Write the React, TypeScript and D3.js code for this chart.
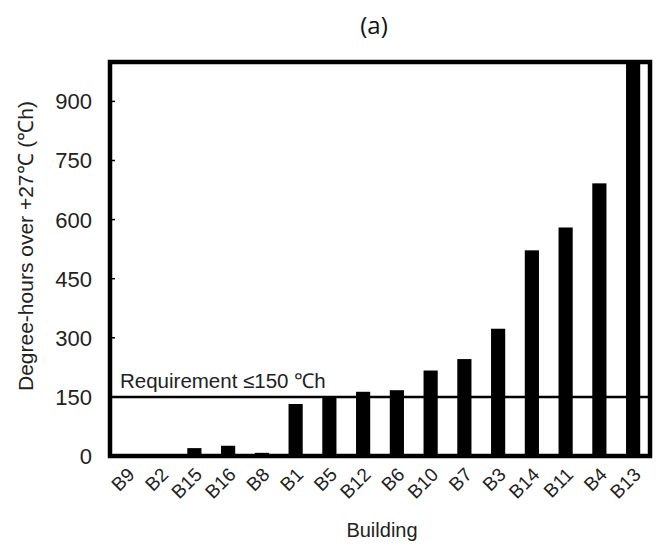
import * as d3 from "d3";

const buildings = ["B9", "B2", "B15", "B16", "B8", "B1", "B5", "B12", "B6", "B10", "B7", "B3", "B14", "B11", "B4", "B13"];
const degreeHours = [0, 0, 20, 26, 8, 132, 152, 163, 167, 217, 246, 323, 522, 580, 692, 1000];
const yTicks = [0, 150, 300, 450, 600, 750, 900];
const requirement = 150;

const width = 656;
const height = 547;
const margin = { top: 62, right: 6, bottom: 91, left: 110 };
const font = "'Liberation Sans', Arial, sans-serif";

const App = () => {
  const x = d3
    .scaleBand()
    .domain(buildings)
    .range([margin.left, width - margin.right])
    .paddingInner(0.58)
    .paddingOuter(0.29);

  const y = d3
    .scaleLinear()
    .domain([0, 1000])
    .range([height - margin.bottom, margin.top]);

  const x0 = margin.left;
  const x1 = width - margin.right;
  const yBase = y(0);

  return (
    <svg width={width} height={height} style={{ position: "absolute", left: 0, top: 0 }}>
      <text x={374} y={34} textAnchor="middle" fontFamily="'Open Sans', sans-serif" fontSize={24} fill="#111">
        (a)
      </text>

      {/* bars */}
      {buildings.map((b, i) => (
        <rect
          key={b}
          x={x(b)}
          y={y(degreeHours[i])}
          width={x.bandwidth()}
          height={yBase - y(degreeHours[i])}
          fill="#000"
        />
      ))}

      {/* requirement line */}
      <line x1={x0} x2={x1} y1={y(requirement)} y2={y(requirement)} stroke="#000" strokeWidth={2.5} />
      <text x={120} y={388} fontFamily={font} fontSize={20.5} fill="#222">
        Requirement ≤150 ℃h
      </text>

      {/* frame */}
      <rect x={x0} y={margin.top} width={x1 - x0} height={yBase - margin.top} fill="none" stroke="#000" strokeWidth={4.5} />

      {/* y axis */}
      {yTicks.map((t) => (
        <g key={t}>
          {t > 0 && <line x1={x0} x2={x0 + 5} y1={y(t)} y2={y(t)} stroke="#000" strokeWidth={1.5} />}
          <text x={92} y={y(t)} dy="0.36em" textAnchor="end" fontFamily={font} fontSize={22} fill="#222">
            {t}
          </text>
        </g>
      ))}

      {/* x tick labels */}
      {buildings.map((b) => {
        const cx = x(b) + x.bandwidth() / 2;
        return (
          <text
            key={b}
            transform={`translate(${cx + 4},${yBase + 15}) rotate(-45)`}
            textAnchor="end"
            dy="0.36em"
            fontFamily={font}
            fontSize={19}
            fill="#222"
          >
            {b}
          </text>
        );
      })}

      <text x={382} y={537} textAnchor="middle" fontFamily={font} fontSize={20} fill="#222">
        Building
      </text>
      <text
        transform="translate(33,246) rotate(-90)"
        textAnchor="middle"
        fontFamily={font}
        fontSize={21}
        fill="#222"
      >
        Degree-hours over +27℃ (℃h)
      </text>
    </svg>
  );
};

export default App;
